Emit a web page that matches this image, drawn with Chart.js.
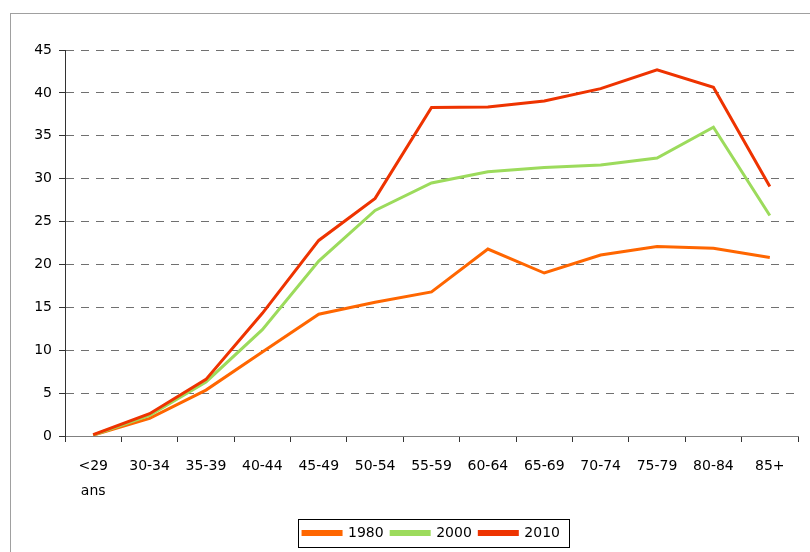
<!DOCTYPE html>
<html lang="fr">
<head>
  <meta charset="UTF-8">
  <title>Taux par âge</title>
  <script src="https://cdn.jsdelivr.net/npm/chart.js"></script>
  <style>
    html, body { margin: 0; padding: 0; background: #fff; }
    .frame { position: absolute; left: 10px; top: 13px; width: 900px; height: 600px;
             border-left: 1px solid #a0a0a0; border-top: 1px solid #a0a0a0; }
    .chart-box { position: absolute; left: 0; top: 0; width: 810px; height: 552px; }
  </style>
</head>
<body>
<div class="frame"></div>
<div class="chart-box">
  <canvas id="ageChart" width="810" height="552"></canvas>
</div>
<script>
const AGE_GROUPS = [["<29", "ans"], "30-34", "35-39", "40-44", "45-49", "50-54", "55-59",
                    "60-64", "65-69", "70-74", "75-79", "80-84", "85+"];

const Y1980 = [0.1, 2.05, 5.35, 9.8, 14.2, 15.6, 16.8, 21.8, 19.0, 21.1, 22.1, 21.9, 20.8];
const Y2000 = [0.1, 2.4, 6.3, 12.4, 20.4, 26.3, 29.5, 30.8, 31.3, 31.6, 32.4, 36.0, 25.7];
const Y2010 = [0.15, 2.6, 6.6, 14.3, 22.8, 27.7, 38.3, 38.35, 39.05, 40.5, 42.7, 40.65, 29.1];

const Y_TICKS = [0, 5, 10, 15, 20, 25, 30, 35, 40, 45];

const FONT = { family: "'DejaVu Sans', sans-serif", size: 14 };

// cadre noir autour de la légende
const legendFrame = {
  id: 'legendFrame',
  afterDraw(chart) {
    const boxes = chart.legend.legendHitBoxes;
    if (!boxes || !boxes.length) return;
    const left = Math.min(...boxes.map(b => b.left)) - 5;
    const right = Math.max(...boxes.map(b => b.left + b.width)) + 9;
    const top = boxes[0].top - 7;
    const bottom = boxes[0].top + boxes[0].height + 7;
    const ctx = chart.ctx;
    ctx.save();
    ctx.strokeStyle = '#000';
    ctx.lineWidth = 1;
    ctx.strokeRect(Math.round(left) + 0.5, Math.round(top) + 0.5,
                   Math.round(right - left), Math.round(bottom - top));
    ctx.restore();
  }
};

const line = (label, data, color, order) => ({
  label, data, order,
  borderColor: color,
  backgroundColor: color,
  borderWidth: 3,
  pointRadius: 0,
  tension: 0,
  fill: false
});

new Chart(document.getElementById('ageChart'), {
  type: 'line',
  data: {
    labels: AGE_GROUPS,
    datasets: [
      line('1980', Y1980, '#FF6600', 2),
      line('2000', Y2000, '#9CDB5C', 1),
      line('2010', Y2010, '#EE3300', 0)
    ]
  },
  options: {
    responsive: false,
    animation: false,
    layout: { padding: { top: 50, right: 12, bottom: 2, left: 0 } },
    plugins: {
      tooltip: { enabled: false },
      legend: {
        position: 'bottom',
        fullSize: false,
        labels: {
          font: FONT,
          color: '#000',
          boxWidth: 38,
          boxHeight: 3,
          padding: 7.5,
          sort: (a, b) => a.datasetIndex - b.datasetIndex
        }
      }
    },
    scales: {
      x: {
        offset: true,
        grid: {
          offset: true,
          drawOnChartArea: false,
          drawTicks: true,
          tickLength: 6,
          tickColor: '#333'
        },
        border: { color: '#808080', width: 1 },
        ticks: {
          font: { ...FONT, lineHeight: 1.8 },
          color: '#000',
          padding: 12,
          maxRotation: 0,
          autoSkip: false
        },
        afterFit(scale) { scale.height = 82.5; }
      },
      y: {
        min: 0,
        max: 45,
        afterBuildTicks(scale) { scale.ticks = Y_TICKS.map(v => ({ value: v })); },
        grid: {
          color: '#707070',
          lineWidth: 1,
          tickLength: 6,
          tickColor: '#333',
          tickBorderDash: []
        },
        border: { color: '#333', width: 1, dash: [8, 7] },
        ticks: {
          font: FONT,
          color: '#000',
          padding: 7
        },
        afterFit(scale) { scale.width = 65; }
      }
    }
  },
  plugins: [legendFrame]
});
</script>
</body>
</html>
